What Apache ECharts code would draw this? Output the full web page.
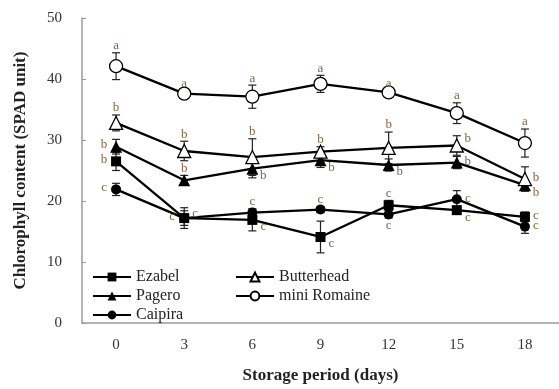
<!DOCTYPE html>
<html>
<head>
<meta charset="utf-8">
<script src="https://cdn.jsdelivr.net/npm/echarts@6/dist/echarts.min.js"></script>
<style>
html, body { margin: 0; padding: 0; background: #fff; }
#chart { width: 559px; height: 389px; }
</style>
</head>
<body>
<div id="chart"></div>
<script>
// storage days on the x axis
const days = ['0', '3', '6', '9', '12', '15', '18'];

// SPAD means
const ezabel     = [26.5, 17.2, 16.9, 14.1, 19.3, 18.5, 17.4];
const pagero     = [28.9, 23.4, 25.3, 26.7, 25.9, 26.3, 22.6];
const caipira    = [21.9, 17.2, 18.1, 18.6, 17.8, 20.3, 15.8];
const butterhead = [32.8, 28.2, 27.2, 28.1, 28.7, 29.1, 23.6];
const romaine    = [42.1, 37.6, 37.1, 39.2, 37.8, 34.4, 29.5];

// error bar half-lengths
const ezabelErr     = [1.5, 1.2, 1.8, 2.6, 0.8, 0.6, 0.8];
const pageroErr     = [1.2, 0.8, 1.5, 1.2, 1.0, 1.0, 0.8];
const caipiraErr    = [1.0, 1.7, 0.6, 0.5, 0.6, 1.4, 1.1];
const butterheadErr = [1.3, 1.6, 3.0, 0.8, 2.6, 1.6, 2.0];
const romaineErr    = [2.2, 0.5, 1.9, 1.4, 0.3, 1.7, 2.3];

// significance letters
const ezabelLetters     = ['b', 'c', 'c', 'c', 'c', 'c', 'c'];
const pageroLetters     = ['b', 'b', 'b', 'b', 'b', 'b', 'b'];
const caipiraLetters    = ['c', 'c', 'c', 'c', 'c', 'c', 'c'];
const butterheadLetters = ['b', 'b', 'b', 'b', 'b', 'b', 'b'];
const romaineLetters    = ['a', 'a', 'a', 'a', 'a', 'a', 'a'];

// where each letter sits relative to its point
const groups = [
    {name: 'Ezabel', vals: ezabel, err: ezabelErr, letters: ezabelLetters,
        pos: ['left', 'rightTop', 'rightBottom', 'rightBottom', 'top', 'rightBottom', 'right']},
    {name: 'Pagero', vals: pagero, err: pageroErr, letters: pageroLetters,
        pos: ['left', 'top', 'rightBottom', 'rightBottom', 'rightBottom', 'right', 'rightBottom']},
    {name: 'Caipira', vals: caipira, err: caipiraErr, letters: caipiraLetters,
        pos: ['left', 'left', 'top', 'top', 'bottom', 'right', 'right']},
    {name: 'Butterhead', vals: butterhead, err: butterheadErr, letters: butterheadLetters,
        pos: ['top', 'top', 'top', 'top', 'top', 'rightTop', 'right']},
    {name: 'mini Romaine', vals: romaine, err: romaineErr, letters: romaineLetters,
        pos: ['top', 'top', 'top', 'top', 'top', 'top', 'top']}
];

const SERIF = '"Liberation Serif", "DejaVu Serif", serif';
const LETTER_COLOR = '#85673a';

// flat rows for the custom series: [dayIndex, value, err, groupIndex]
const errRows = [];
groups.forEach((g, gi) => {
    g.vals.forEach((v, i) => errRows.push([i, v, g.err[i], gi]));
});

function renderErr(params, api) {
    const x = api.value(0), v = api.value(1), e = api.value(2);
    const hi = api.coord([x, v + e]);
    const lo = api.coord([x, v - e]);
    const cap = 4;
    const style = {stroke: '#222', lineWidth: 1.2};
    return {
        type: 'group',
        children: [
            {type: 'line', shape: {x1: hi[0], y1: hi[1], x2: lo[0], y2: lo[1]}, style: style},
            {type: 'line', shape: {x1: hi[0] - cap, y1: hi[1], x2: hi[0] + cap, y2: hi[1]}, style: style},
            {type: 'line', shape: {x1: lo[0] - cap, y1: lo[1], x2: lo[0] + cap, y2: lo[1]}, style: style}
        ]
    };
}

function renderLetter(params, api) {
    const x = api.value(0), v = api.value(1), e = api.value(2), gi = api.value(3);
    const g = groups[gi];
    const p = api.coord([x, v]);
    const hi = api.coord([x, v + e]);
    const lo = api.coord([x, v - e]);
    let tx = p[0], ty = p[1];
    switch (g.pos[x]) {
        case 'top': ty = hi[1] - 7; break;
        case 'bottom': ty = lo[1] + 7; break;
        case 'left': tx = p[0] - 12; ty = p[1] - 2; break;
        case 'right': tx = p[0] + 11; ty = p[1] - 1; break;
        case 'rightTop': tx = p[0] + 11; ty = hi[1] + 3; break;
        case 'rightBottom': tx = p[0] + 11; ty = p[1] + 7; break;
    }
    return {
        type: 'text',
        style: {
            text: g.letters[x], x: tx, y: ty,
            align: 'center', verticalAlign: 'middle',
            fill: LETTER_COLOR, font: '13px ' + SERIF
        }
    };
}

const markers = {
    'Ezabel':       {symbol: 'rect', size: 10, open: false},
    'Pagero':       {symbol: 'triangle', size: 12, open: false},
    'Caipira':      {symbol: 'circle', size: 10, open: false},
    'Butterhead':   {symbol: 'triangle', size: 13, open: true},
    'mini Romaine': {symbol: 'circle', size: 13, open: true}
};

const lineSeries = groups.map(g => {
    const m = markers[g.name];
    return {
        name: g.name,
        type: 'line',
        data: g.vals,
        z: 3,
        symbol: m.symbol,
        symbolSize: m.size,
        showAllSymbol: true,
        lineStyle: {color: '#000', width: 2.3},
        itemStyle: m.open
            ? {color: '#fff', borderColor: '#000', borderWidth: 1.3}
            : {color: '#000', borderColor: '#000', borderWidth: 0},
        emphasis: {disabled: true}
    };
});

const legendText = {fontFamily: SERIF, fontSize: 16, color: '#222'};

const chart = echarts.init(document.getElementById('chart'));
chart.setOption({
    animation: false,
    backgroundColor: '#fff',
    grid: {left: 82, right: -3, top: 18, bottom: 64, containLabel: false},
    legend: [
        {
            data: ['Ezabel', 'Pagero', 'Caipira'],
            orient: 'vertical', left: 92, top: 269,
            itemWidth: 38, itemHeight: 11, itemGap: 3,
            textStyle: legendText, padding: 0
        },
        {
            data: ['Butterhead', 'mini Romaine'],
            orient: 'vertical', left: 235, top: 269,
            itemWidth: 38, itemHeight: 11, itemGap: 3,
            textStyle: legendText, padding: 0
        }
    ],
    xAxis: {
        type: 'category',
        data: days,
        boundaryGap: true,
        name: 'Storage period (days)',
        nameLocation: 'middle',
        nameGap: 44,
        nameTextStyle: {fontFamily: SERIF, fontSize: 17, fontWeight: 'bold', color: '#222'},
        axisLine: {lineStyle: {color: '#9a9a9a', width: 1.5}},
        axisTick: {inside: true, length: 4, lineStyle: {color: '#9a9a9a'}},
        axisLabel: {fontFamily: SERIF, fontSize: 15, color: '#333', margin: 15},
        splitLine: {show: false}
    },
    yAxis: {
        type: 'value',
        min: 0, max: 50, interval: 10,
        name: 'Chlorophyll content (SPAD unit)',
        nameLocation: 'middle',
        nameGap: 53,
        nameRotate: 90,
        nameTextStyle: {fontFamily: SERIF, fontSize: 17, fontWeight: 'bold', color: '#222'},
        axisLine: {show: true, lineStyle: {color: '#9a9a9a', width: 1.5}},
        axisTick: {show: true, inside: true, length: 4, lineStyle: {color: '#9a9a9a'}},
        axisLabel: {fontFamily: SERIF, fontSize: 15, color: '#333', margin: 20},
        splitLine: {show: false}
    },
    series: [
        {
            type: 'custom', name: 'err', z: 2,
            renderItem: renderErr, data: errRows,
            silent: true
        },
        ...lineSeries,
        {
            type: 'custom', name: 'letters', z: 4,
            renderItem: renderLetter, data: errRows,
            silent: true
        }
    ]
});
</script>
</body>
</html>
